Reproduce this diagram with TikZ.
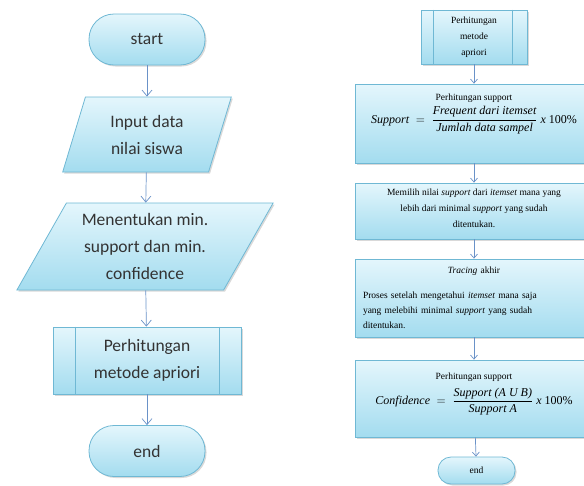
\documentclass[tikz,border=0pt]{standalone}
\usepackage{fontspec}
\setmainfont{Carlito}
\newfontfamily\rightfont{Liberation Serif}
\usepackage{amsmath}
\usetikzlibrary{shapes.geometric,shadows,arrows.meta}
\definecolor{boxline}{HTML}{6FB8D4}
\definecolor{boxtop}{HTML}{E4F6FC}
\definecolor{boxbot}{HTML}{A3DCEF}
\definecolor{flowblue}{HTML}{6A92C8}
\newcommand{\formula}[1]{{\fontsize{12pt}{14pt}\selectfont #1}}

\begin{document}
\begin{tikzpicture}[x=1pt,y=-1pt,
            box/.style={draw=boxline,line width=0.8pt,top color=boxtop,bottom color=boxbot,
                drop shadow={shadow xshift=1.5pt,shadow yshift=-1.5pt,opacity=.3},align=center,inner sep=0pt},
            bigtext/.style={font=\fontsize{17.5pt}{27pt}\selectfont,text=black!80},
            smalltext/.style={font=\rightfont\fontsize{9.5pt}{16pt}\selectfont},
            term/.style={box,bigtext,rectangle,rounded corners=25pt,minimum width=116pt,minimum height=51pt},
            io/.style={box,bigtext,trapezium,trapezium stretches=true},
            proc/.style={box,bigtext,rectangle,minimum width=188pt,minimum height=67pt},
            rbox/.style={box,smalltext,rectangle,minimum width=238pt},
            flow/.style={draw=flowblue,line width=0.7pt,-{Straight Barb[length=6pt,width=10pt]}},
            rflow/.style={draw=flowblue,line width=0.7pt,-{Straight Barb[length=4pt,width=7pt]}}]
            \useasboundingbox (0,0) rectangle (584,485);

            \node[term] (A) at (147, 39.5) {start};
            \node[io,trapezium left angle=71,trapezium right angle=109,
                minimum width=170pt,minimum height=75pt] (B) at (147, 134.5) {Input data\\nilai siswa};
            \node[io,trapezium left angle=59,trapezium right angle=121,
                minimum width=257pt,minimum height=87pt] (C) at (145, 246.5) {Menentukan min.\\support dan min.\\confidence};
            \node[proc] (D) at (147, 360.5) {Perhitungan\\metode apriori};
            \node[term] (E) at (147, 451) {end};

            \node[box,smalltext,rectangle,minimum width=106pt,minimum height=54pt] (AA) at (474, 37) {Perhitungan\\metode\\apriori};
            \node[rbox,minimum height=79pt,text depth=30pt] (BB) at (474, 123.5)
                {Perhitungan support\\[3pt]
                 \formula{$\textit{Support} \;=\; \dfrac{\textit{Frequent dari itemset}}{\textit{Jumlah data sampel}}$ \textit{x} 100\%}};
            \node[rbox,minimum height=56pt,text depth=5pt] (CC) at (474, 211)
                {Memilih nilai \textit{support} dari \textit{itemset} mana yang\\
                 lebih dari minimal \textit{support} yang sudah\\ditentukan.};
            \node[rbox,minimum height=78pt,text width=222pt,align=left,font=\rightfont\fontsize{9.5pt}{15pt}\selectfont] (DD) at (474, 298)
                {\makebox[\linewidth]{\textit{Tracing} akhir}\\[10pt]
                 Proses setelah mengetahui \textit{itemset} mana saja\\
                 yang melebihi minimal \textit{support} yang sudah\\ditentukan.};
            \node[rbox,minimum height=77pt,text depth=20pt] (EE) at (474, 398.5)
                {Perhitungan support\\[6pt]
                 \formula{$\textit{Confidence} \;=\; \dfrac{\textit{Support (A U B)}}{\textit{Support A}}$ \textit{x} 100\%}};
            \node[box,smalltext,rectangle,rounded corners=13pt,minimum width=77pt,minimum height=27pt] (FF) at (476.5, 470.5) {end};

            \draw[boxline,line width=0.8pt] ([xshift=23pt]D.north west) -- ([xshift=23pt]D.south west)
                ([xshift=-22pt]D.north east) -- ([xshift=-22pt]D.south east);
            \draw[boxline,line width=0.8pt] ([xshift=13pt]AA.north west) -- ([xshift=13pt]AA.south west)
                ([xshift=-15pt]AA.north east) -- ([xshift=-15pt]AA.south east);

            \path[flow]
            (A) edge (B)
            (B) edge (C)
            (C) edge (D)
            (D) edge (E);
            \path[rflow]
            (AA) edge (BB)
            (BB) edge (CC)
            (CC) edge (DD)
            (DD) edge (EE)
            (EE) edge (FF);
\end{tikzpicture}
\end{document}
